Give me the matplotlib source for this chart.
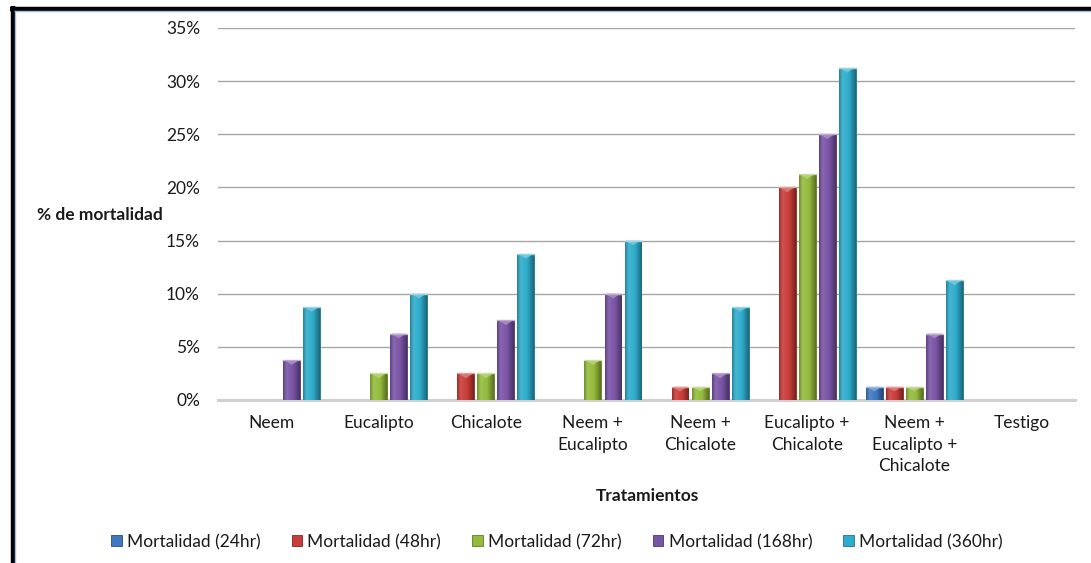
import numpy as np
import matplotlib
matplotlib.use("Agg")
import matplotlib.pyplot as plt
from matplotlib.colors import LinearSegmentedColormap, to_rgb
from matplotlib.lines import Line2D
from matplotlib.patches import Polygon

plt.rcParams['font.family'] = ['Lato', 'DejaVu Sans']

categories = ["Neem", "Eucalipto", "Chicalote", "Neem +\nEucalipto", "Neem +\nChicalote",
              "Eucalipto +\nChicalote", "Neem +\nEucalipto +\nChicalote", "Testigo"]
series_names = ["Mortalidad (24hr)", "Mortalidad (48hr)", "Mortalidad (72hr)",
                "Mortalidad (168hr)", "Mortalidad (360hr)"]
m24 = [0, 0, 0, 0, 0, 0, 1.25, 0]
m48 = [0, 0, 2.5, 0, 1.25, 20.0, 1.25, 0]
m72 = [0, 2.5, 2.5, 3.75, 1.25, 21.25, 1.25, 0]
m168 = [3.75, 6.25, 7.5, 10.0, 2.5, 25.0, 6.25, 0]
m360 = [8.75, 10.0, 13.75, 15.0, 8.75, 31.25, 11.25, 0]
series = [m24, m48, m72, m168, m360]
colors = ["#3f78c0", "#c93c39", "#94bb3c", "#7a54a6", "#2eaccb"]
yticks = [0, 5, 10, 15, 20, 25, 30, 35]

FS = 12.5
TXT = "#1a1a1a"

fig = plt.figure(figsize=(10.91, 5.63), dpi=100)
ax = fig.add_axes([218 / 1091, 1 - 400 / 563, (1075 - 218) / 1091, (400 - 28) / 563])

x = np.arange(len(categories))
slot = 0.187
width = 0.158


def shade(c, f):
    r = np.array(to_rgb(c))
    if f >= 0:
        return tuple(r + (1 - r) * f)
    return tuple(r * (1 + f))


for j, (vals, col) in enumerate(zip(series, colors)):
    pos = x + (j - 2) * slot
    bars = ax.bar(pos, vals, width=width, color=col, edgecolor=shade(col, -0.35),
                  linewidth=0.6, zorder=3, label=series_names[j])
    cmap = LinearSegmentedColormap.from_list(
        f"s{j}", [shade(col, -0.25), shade(col, 0.12), shade(col, 0.05),
                  col, shade(col, -0.2), shade(col, -0.4)])
    grad = np.linspace(0, 1, 64).reshape(1, -1)
    for b, v in zip(bars, vals):
        if v <= 0:
            continue
        x0 = b.get_x()
        im = ax.imshow(grad, cmap=cmap, aspect="auto", extent=(x0, x0 + width, 0, v),
                       zorder=3.5, interpolation="bicubic")
        im.set_clip_path(b)
        cap = 0.45
        tri = Polygon([(x0 + 0.01, v), (x0 + width - 0.01, v), (x0 + width / 2, v - cap)],
                      closed=True, facecolor=shade(col, 0.35), edgecolor="none",
                      alpha=0.85, zorder=4)
        ax.add_patch(tri)
        ax.plot([x0, x0 + width], [v, v], color=shade(col, 0.5), lw=1.0, zorder=4.2)

ax.set_xlim(-0.5, len(categories) - 0.5)
ax.set_ylim(0, 35)
ax.set_yticks(yticks)
ax.set_yticklabels([f"{t}%" for t in yticks])
ax.set_xticks(x)
ax.set_xticklabels(categories, linespacing=1.42, va="top")
ax.tick_params(axis="both", length=0, labelsize=FS, colors=TXT)
ax.tick_params(axis="y", pad=13)
ax.tick_params(axis="x", pad=11)
ax.grid(axis="y", color="#a6a6a6", linewidth=1.0, zorder=0)
ax.set_axisbelow(True)
for s in ["top", "right", "left"]:
    ax.spines[s].set_visible(False)
ax.spines["bottom"].set_color("#d0d0d0")
ax.spines["bottom"].set_linewidth(2.2)
ax.spines["bottom"].set_zorder(2)

fig.text(37 / 1091, 1 - 215 / 563, "% de mortalidad", fontsize=FS, fontweight="bold",
         ha="left", va="center", color=TXT)
fig.text(647 / 1091, 1 - 496 / 563, "Tratamientos", fontsize=FS, fontweight="bold",
         ha="center", va="center", color=TXT)

handles = [plt.Rectangle((0, 0), 1, 1, facecolor=c, edgecolor=shade(c, -0.35), lw=0.6)
           for c in colors]
fig.legend(handles, series_names, loc="center", bbox_to_anchor=(557 / 1091, 1 - 542 / 563),
           ncol=5, frameon=False, fontsize=FS, handlelength=0.6, handleheight=0.6,
           handletextpad=0.3, columnspacing=1.8, labelcolor=TXT)

# frame lines along the top and left edges
fig.add_artist(Line2D([12.5 / 1091, 12.5 / 1091], [0, 1 - 6 / 563], color="black",
                      lw=3.2, transform=fig.transFigure, solid_capstyle="butt"))
fig.add_artist(Line2D([10 / 1091, 1], [1 - 8.5 / 563, 1 - 8.5 / 563], color="black",
                      lw=3.2, transform=fig.transFigure, solid_capstyle="butt"))
fig.add_artist(Line2D([14.8 / 1091, 14.8 / 1091], [0, 1 - 10.5 / 563], color="#9dbde3",
                      lw=1.0, transform=fig.transFigure))
fig.add_artist(Line2D([14.5 / 1091, 1], [1 - 10.8 / 563, 1 - 10.8 / 563], color="#9dbde3",
                      lw=1.0, transform=fig.transFigure))

fig.savefig("out.png", dpi=100)
